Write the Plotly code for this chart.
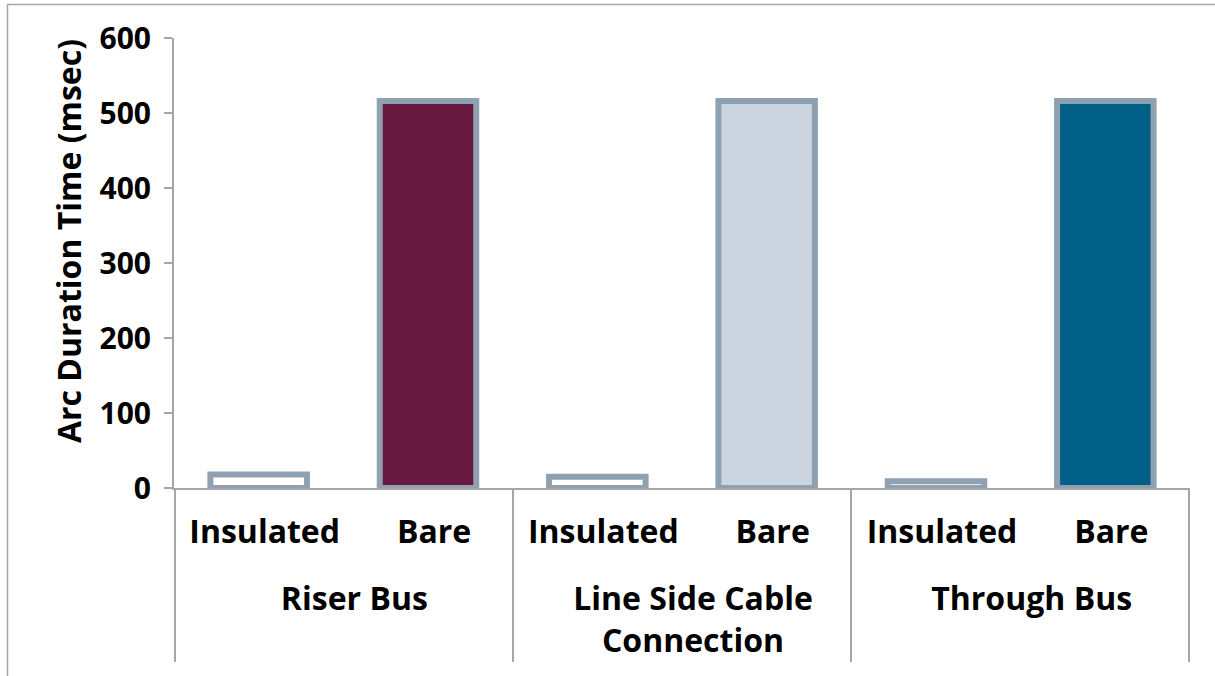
import plotly.graph_objects as go

groups = ["Riser Bus", "Riser Bus",
          "Line Side Cable<br>Connection", "Line Side Cable<br>Connection",
          "Through Bus", "Through Bus"]
conditions = ["Insulated", "Bare", "Insulated", "Bare", "Insulated", "Bare"]
arc_ms = [18, 516, 15, 516, 9, 516]
fill_colors = ["#FFFFFF", "#671940", "#FFFFFF", "#CBD5DF", "#FFFFFF", "#005F87"]
y_ticks = [0, 100, 200, 300, 400, 500, 600]
y_title = "Arc Duration Time (msec)"

# unique category ids for the bars, labelled with the condition names
cat_ids = [f"{g} | {c}" for g, c in zip(groups, conditions)]
n = len(cat_ids)
group_names = list(dict.fromkeys(groups))
group_idx = {g: [i for i, gg in enumerate(groups) if gg == g] for g in group_names}
group_centers = [sum(v) / len(v) for v in group_idx.values()]
group_bounds = [min(group_idx[group_names[0]]) - 0.5] + [max(v) + 0.5 for v in group_idx.values()]

W, H = 1215, 676
L, R, T, B = 174, 25, 38, 4
pw = W - L - R
ph = H - T - B
axis_y = 488          # pixel row of the value axis zero line
def pos(py):          # pixel row -> paper fraction
    return (H - B - py) / ph

GRAY = "#A6A6A6"
FONT = "Open Sans"
def f(size):
    return dict(family=FONT, size=size, color="#000000", weight=700)

fig = go.Figure()
fig.add_trace(go.Bar(
    x=cat_ids,
    y=arc_ms,
    width=0.57,
    marker=dict(color=fill_colors, line=dict(color="#8FA1B0", width=6)),
    showlegend=False,
))
# empty helper traces so the group-label and divider axes get drawn
for ax in ("x2", "x3"):
    fig.add_trace(go.Scatter(x=[], y=[], xaxis=ax, yaxis="y",
                             showlegend=False, hoverinfo="skip"))

# figure border (top and left visible)
fig.add_shape(type="rect", xref="paper", yref="paper",
              x0=(7.5 - L) / pw, x1=(W + 5 - L) / pw,
              y0=-(B + 5) / ph, y1=1 + (T - 4.5) / ph,
              line=dict(color=GRAY, width=1.5), layer="below")

# value-axis title
fig.add_annotation(text=y_title, textangle=-90, showarrow=False,
                   xref="paper", yref="paper",
                   x=(68 - L) / pw, y=pos(241),
                   xanchor="center", yanchor="middle", font=f(32))

xrange = [-0.5, n - 0.5]
eps = 0.008
fig.update_layout(
    width=W, height=H,
    margin=dict(l=L, r=R, t=T, b=B, pad=0, autoexpand=False),
    paper_bgcolor="white", plot_bgcolor="white",
    font=f(31),
    xaxis=dict(
        type="category", range=xrange, automargin=False,
        tickmode="array", tickvals=cat_ids, ticktext=conditions,
        showline=True, linecolor=GRAY, linewidth=2,
        showgrid=False, ticks="", ticklabelstandoff=15, ticklabelshift=6,
        tickfont=f(32),
    ),
    xaxis2=dict(
        overlaying="x", anchor="free", position=pos(577), automargin=False,
        type="linear", range=xrange,
        tickmode="array", tickvals=group_centers, ticktext=group_names,
        showline=False, showgrid=False, zeroline=False, ticks="",
        ticklabelshift=11,
        tickfont=f(32),
    ),
    xaxis3=dict(
        overlaying="x", anchor="free", position=pos(662), automargin=False,
        type="linear", range=[xrange[0] - eps, xrange[1] + eps],
        tickmode="array", tickvals=group_bounds, showticklabels=False,
        showline=False, showgrid=False, zeroline=False,
        ticks="inside", ticklen=662 - axis_y, tickwidth=2, tickcolor=GRAY,
    ),
    yaxis=dict(
        domain=[pos(axis_y), 1], automargin=False,
        range=[0, 600], tickvals=y_ticks,
        showline=True, linecolor=GRAY, linewidth=2,
        ticks="outside", ticklen=8, tickcolor=GRAY, tickwidth=2,
        showgrid=False, zeroline=False, ticklabelstandoff=7,
        tickfont=f(30),
    ),
)

fig.write_html("out.html")
